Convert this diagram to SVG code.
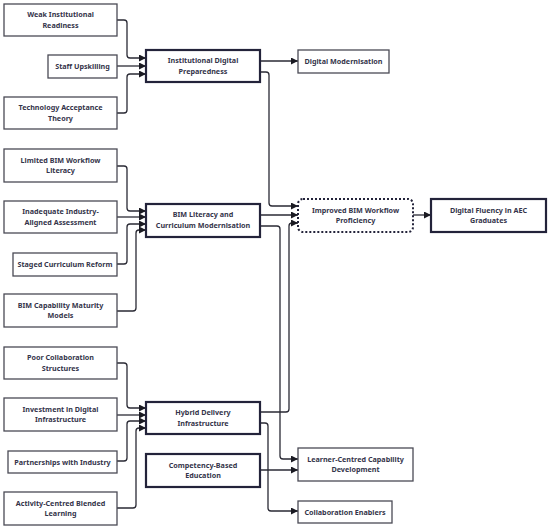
<svg xmlns="http://www.w3.org/2000/svg" width="550" height="530" viewBox="0 0 550 530">
<style>
.b{fill:#fff;stroke:#4a4a55;stroke-width:1.3}
.t{fill:#fff;stroke:#23233a;stroke-width:2.2}
.d{fill:#fff;stroke:#23233a;stroke-width:2;stroke-dasharray:2 2}
text{font-family:"Noto Sans","Liberation Sans",sans-serif;font-size:7.2px;font-weight:700;fill:#34344a;text-anchor:middle}
.c path{fill:none;stroke:#2a2a35;stroke-width:1.3;marker-end:url(#a)}
</style>
<defs>
<marker id="a" viewBox="0 0 10 10" refX="10" refY="5" markerWidth="7" markerHeight="7" markerUnits="userSpaceOnUse" orient="auto">
<path d="M0,0 L10,5 L0,10 z" fill="#1a1a22"/>
</marker>
</defs>
<rect width="550" height="530" fill="#fff"/>
<g class="c" id="connectors">
<path d="M117,20 H124 q3,0 3,3 V55 q0,3 3,3 H146"/>
<path d="M117,66 H146"/>
<path d="M117,113 H124 q3,0 3,-3 V77 q0,-3 3,-3 H146"/>
<path d="M260,61 H298"/>
<path d="M260,72 H266 q3,0 3,3 V203 q0,3 3,3 H298"/>
<path d="M117,166 H124 q3,0 3,3 V208 q0,3 3,3 H146"/>
<path d="M117,217 H146"/>
<path d="M117,264 H124 q3,0 3,-3 V227 q0,-3 3,-3 H146"/>
<path d="M117,311 H133 q3,0 3,-3 V233 q0,-3 3,-3 H146"/>
<path d="M260,215 H298"/>
<path d="M260,226 H277 q3,0 3,3 V456 q0,3 3,3 H298"/>
<path d="M117,363 H124 q3,0 3,3 V405 q0,3 3,3 H146"/>
<path d="M117,415 H146"/>
<path d="M117,461 H124 q3,0 3,-3 V424 q0,-3 3,-3 H146"/>
<path d="M117,508 H133 q3,0 3,-3 V431 q0,-3 3,-3 H146"/>
<path d="M260,412 H286 q3,0 3,-3 V226 q0,-3 3,-3 H298"/>
<path d="M260,423 H265 q3,0 3,3 V508 q0,3 3,3 H298"/>
<path d="M260,470 H298"/>
<path d="M413,215 H431"/>
</g>
<g id="weak"><rect class="b" x="4" y="4" width="113" height="32"/><text x="60.5" y="17">Weak Institutional</text><text x="60.5" y="27.5">Readiness</text></g>
<g id="staff"><rect class="b" x="48" y="55" width="69" height="23"/><text x="82.5" y="69">Staff Upskilling</text></g>
<g id="tam"><rect class="b" x="4" y="97" width="113" height="32"/><text x="60.5" y="110">Technology Acceptance</text><text x="60.5" y="120.5">Theory</text></g>
<g id="idp"><rect class="t" x="146" y="50" width="114" height="32"/><text x="203" y="63">Institutional Digital</text><text x="203" y="73.5">Preparedness</text></g>
<g id="dm"><rect class="b" x="298" y="50" width="91" height="23"/><text x="343.5" y="64">Digital Modernisation</text></g>
<g id="limited"><rect class="b" x="4" y="149" width="113" height="33"/><text x="60.5" y="162.5">Limited BIM Workflow</text><text x="60.5" y="173">Literacy</text></g>
<g id="inadequate"><rect class="b" x="4" y="201" width="113" height="32"/><text x="60.5" y="214">Inadequate Industry-</text><text x="60.5" y="224.5">Aligned Assessment</text></g>
<g id="staged"><rect class="b" x="13" y="253" width="104" height="23"/><text x="65" y="267">Staged Curriculum Reform</text></g>
<g id="bimcap"><rect class="b" x="4" y="294" width="113" height="33"/><text x="60.5" y="307.5">BIM Capability Maturity</text><text x="60.5" y="318">Models</text></g>
<g id="bimlit"><rect class="t" x="146" y="204" width="114" height="33"/><text x="203" y="217">BIM Literacy and</text><text x="203" y="227.5">Curriculum Modernisation</text></g>
<g id="improved"><rect class="d" x="298" y="199" width="115" height="33" rx="5"/><text x="355.5" y="212.5">Improved BIM Workflow</text><text x="355.5" y="223">Proficiency</text></g>
<g id="fluency"><rect class="t" x="431" y="199" width="115" height="33"/><text x="488.5" y="212.5">Digital Fluency in AEC</text><text x="488.5" y="223">Graduates</text></g>
<g id="poor"><rect class="b" x="4" y="347" width="113" height="32"/><text x="60.5" y="360">Poor Collaboration</text><text x="60.5" y="370.5">Structures</text></g>
<g id="invest"><rect class="b" x="4" y="398" width="113" height="33"/><text x="60.5" y="411.5">Investment in Digital</text><text x="60.5" y="422">Infrastructure</text></g>
<g id="partner"><rect class="b" x="8" y="451" width="109" height="22"/><text x="62.5" y="464.5">Partnerships with Industry</text></g>
<g id="activity"><rect class="b" x="4" y="492" width="113" height="33"/><text x="60.5" y="505.5">Activity-Centred Blended</text><text x="60.5" y="516">Learning</text></g>
<g id="hybrid"><rect class="t" x="146" y="402" width="114" height="32"/><text x="203" y="415">Hybrid Delivery</text><text x="203" y="425.5">Infrastructure</text></g>
<g id="cbe"><rect class="t" x="146" y="454" width="114" height="33"/><text x="203" y="467.5">Competency-Based</text><text x="203" y="478">Education</text></g>
<g id="learner"><rect class="b" x="298" y="448" width="115" height="33"/><text x="355.5" y="461.5">Learner-Centred Capability</text><text x="355.5" y="472">Development</text></g>
<g id="collab"><rect class="b" x="298" y="501" width="94" height="22"/><text x="345" y="514.5">Collaboration Enablers</text></g>
</svg>
